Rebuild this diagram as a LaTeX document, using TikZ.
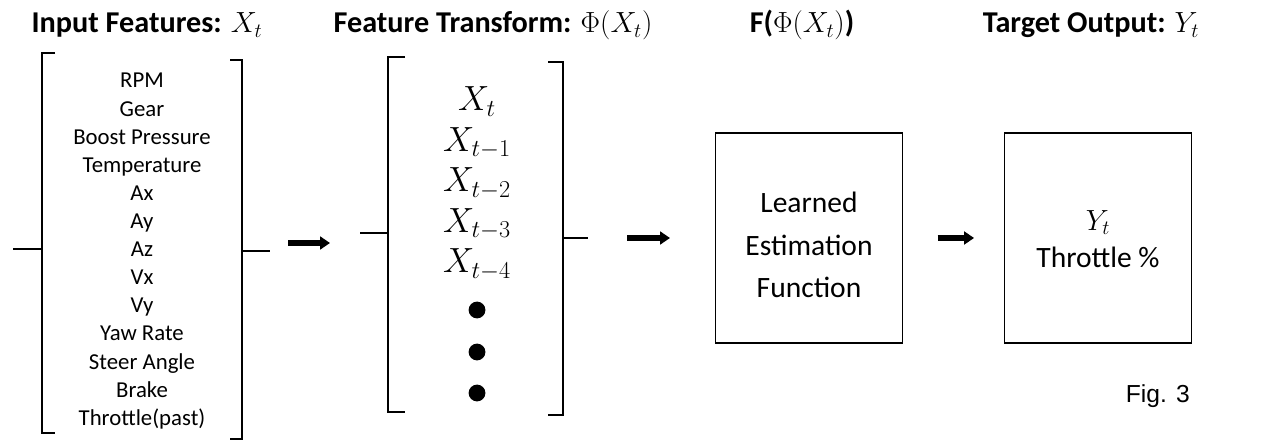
\documentclass[tikz,border=0pt]{standalone}
\usepackage{fontspec}
\setmainfont{Carlito}
\newfontfamily\figfont{Liberation Sans}
\usetikzlibrary{arrows.meta, positioning}

\begin{document}
\begin{tikzpicture}[x=0.025cm, y=-0.025cm,
    title/.style={font=\fontsize{21.5}{21.5}\selectfont\bfseries, anchor=base, inner sep=0pt},
    feature/.style={font=\fontsize{16.2}{16.2}\selectfont, anchor=base, inner sep=0pt},
    lagterm/.style={font=\fontsize{23}{23}\selectfont, anchor=base, inner sep=0pt},
    lagdot/.style={circle, fill, inner sep=0pt, minimum size=0.42cm},
    bracket/.style={line width=2pt},
    block/.style={rectangle, draw, line width=1pt, minimum width=4.66cm, minimum height=5.24cm},
    blocktext/.style={align=center, inner sep=0pt},
    flow/.style={line width=4.5pt, -{Triangle[length=7pt, width=9pt]}}]
    \useasboundingbox (0,0) rectangle (1288,445);

    % Titles
    \node (t1) [title] at (147,33) {Input Features: $X_t$};
    \node (t2) [title] at (493,33) {Feature Transform: $\Phi(X_t)$};
    \node (t3) [title] at (802,33) {F($\Phi(X_t)$)};
    \node (t4) [title] at (1091,33) {Target Output: $Y_t$};

    % Input features
    \foreach \name [count=\i] in {RPM, Gear, Boost Pressure, Temperature, Ax, Ay, Az, Vx, Vy, Yaw Rate, Steer Angle, Brake, Throttle(past)}
        \node (feat\i) [feature] at (142,{88+28.1*(\i-1)}) {\name};
    \draw[bracket] (55,53) -- (42,53) -- (42,433) -- (55,433);
    \draw[bracket] (13,249) -- (42,249);
    \draw[bracket] (230,60) -- (242,60) -- (242,439) -- (230,439);
    \draw[bracket] (242,251) -- (270,251);

    % Feature transform
    \foreach \lag [count=\i] in {t, t-1, t-2, t-3, t-4}
        \node (lag\i) [lagterm] at (477,{111+40.5*(\i-1)}) {$X_{\lag}$};
    \foreach \i/\yy in {1/310, 2/352, 3/393}
        \node (more\i) [lagdot] at (477,\yy) {};
    \draw[bracket] (405,57) -- (388,57) -- (388,412) -- (405,412);
    \draw[bracket] (360,233) -- (388,233);
    \draw[bracket] (548,62) -- (563,62) -- (563,415) -- (548,415);
    \draw[bracket] (563,238) -- (588,238);

    % Blocks
    \node (learn) [block] at (809,238) {};
    \node (learntext) [blocktext, font=\fontsize{21}{30}\selectfont] at (809,245) {Learned\\Estimation\\Function};
    \node (target) [block] at (1098,238) {};
    \node (targettext) [blocktext, font=\fontsize{21}{26}\selectfont] at (1098,239) {$Y_t$\\Throttle \%};

    % Arrows
    \coordinate (a1s) at (288,243);
    \coordinate (a1e) at (330,243);
    \coordinate (a2s) at (627,238);
    \coordinate (a2e) at (670,238);
    \draw[flow] (a1s) -- (a1e);
    \draw[flow] (a2s) -- (a2e);
    \draw[flow, shorten <=0.87cm, shorten >=0.75cm] (learn) -- (target);

    \node (fig) [anchor=base east, inner sep=0pt, font=\figfont\fontsize{17.5}{17.5}\selectfont] at (1190,402) {Fig. 3};
\end{tikzpicture}
\end{document}
